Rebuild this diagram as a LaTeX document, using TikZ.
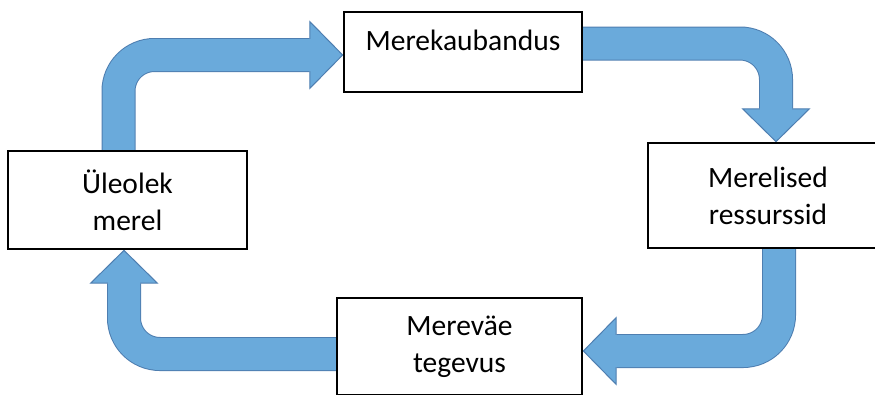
\documentclass[tikz,border=0pt]{standalone}
\usepackage{fontspec}
\setmainfont{Carlito}
\usetikzlibrary{arrows.meta,backgrounds}

\definecolor{flowfill}{RGB}{106,170,219}
\definecolor{flowedge}{RGB}{78,126,176}

\begin{document}
\begin{tikzpicture}[x=1pt, y=-1pt,
                    box/.style={rectangle,draw,line width=1.3pt,fill=white,align=center,
                                font=\fontsize{29.5pt}{37pt}\selectfont},
                    flow/.style={draw=flowedge,line width=34pt,rounded corners=36pt,
                                 -{Triangle[length=34pt,width=69pt,line width=1pt,fill=flowfill]},
                                 postaction={draw=flowfill,line width=32pt,arrows=-,shorten >=29pt}}]

  \useasboundingbox (0,0) rectangle (875,394);

  \node[box,minimum width=238pt,text height=38pt,text depth=42pt,inner ysep=0pt] (kaub) at (463,52) {Merekaubandus};
  \node[box,minimum width=240pt,minimum height=105pt] (res) at (768,195.5) {Merelised\\ressurssid};
  \node[box,minimum width=245pt,minimum height=97pt] (vae) at (459.5,346.5) {Mereväe\\tegevus};
  \node[box,minimum width=239pt,minimum height=98pt] (ule) at (127.5,200) {Üleolek\\merel};

  \begin{scope}[on background layer]
    \draw[flow] ([xshift=-9pt]ule.north) |- ([yshift=-3pt]kaub.west);
    \draw[flow] ([yshift=8.5pt]kaub.east) -| ([xshift=8pt]res.north);
    \draw[flow] ([xshift=11pt]res.south) |- ([yshift=-4.5pt]vae.east);
    \draw[flow] ([yshift=-7.5pt]vae.west) -| ([xshift=-3.5pt]ule.south);
  \end{scope}

\end{tikzpicture}
\end{document}
